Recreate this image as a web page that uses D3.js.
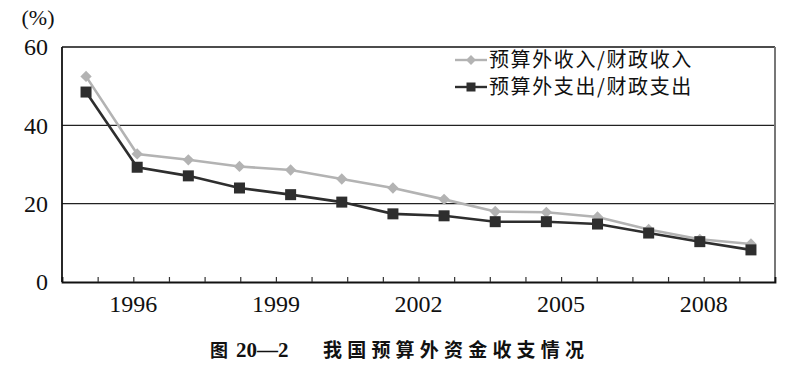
<!DOCTYPE html>
<html><head><meta charset="utf-8">
<script src="https://cdn.jsdelivr.net/npm/d3@7"></script>
<style>
html,body{margin:0;padding:0;background:#fff;}
svg{display:block;}
</style></head>
<body>
<svg id="chart" width="791" height="367"></svg>
<script>
const years = [1996,1997,1998,1999,2000,2001,2002,2003,2004,2005,2006,2007,2008,2009];
const revenueRatio = [52.5,32.7,31.2,29.5,28.6,26.3,24.0,21.1,18.0,17.8,16.6,13.4,10.9,9.7];
const spendingRatio = [48.5,29.3,27.1,24.0,22.3,20.4,17.4,16.9,15.4,15.4,14.8,12.5,10.3,8.2];
const seriesNames = ["预算外收入/财政收入","预算外支出/财政支出"];
const yTicks = [0,20,40,60];
const xTickLabels = ["1996","1999","2002","2005","2008"];
const xTickLabelSlots = [2,6,10,14,18];
const xTickSlots = d3.range(1,20);

const svg = d3.select("#chart");
const L = 62, R = 775, T = 47, B = 282;

const x = d3.scalePoint().domain(years).range([L, R]).padding(0.47);
const xa = d3.scaleLinear().domain([0,20]).range([L, R]);
const y = d3.scaleLinear().domain([0,60]).range([B, T]);

// gridlines
svg.append("g").selectAll("line").data([20,40]).join("line")
  .attr("x1", L).attr("x2", R).attr("y1", d=>y(d)).attr("y2", d=>y(d))
  .attr("stroke", "#222").attr("stroke-width", 1.3);

// frame
svg.append("line").attr("x1", L).attr("x2", R).attr("y1", T).attr("y2", T).attr("stroke", "#111").attr("stroke-width", 1.6);
svg.append("line").attr("x1", R).attr("x2", R).attr("y1", T).attr("y2", B).attr("stroke", "#777").attr("stroke-width", 2);
svg.append("line").attr("x1", L).attr("x2", L).attr("y1", T).attr("y2", B).attr("stroke", "#111").attr("stroke-width", 1.8);

// x axis with inner ticks
const xAxis = d3.axisBottom(xa).tickValues(xTickSlots).tickSize(-5).tickFormat("");
const gx = svg.append("g").attr("transform", `translate(0,${B})`).call(xAxis);
gx.select(".domain").attr("stroke", "#111").attr("stroke-width", 1.8);
gx.selectAll(".tick line").attr("stroke", "#333").attr("stroke-width", 1.2);

svg.append("g").selectAll("text").data(xTickLabels).join("text")
  .attr("x", (d,i)=>xa(xTickLabelSlots[i])).attr("y", 312)
  .attr("text-anchor", "middle")
  .attr("font-family", "'Liberation Serif', 'DejaVu Serif', serif")
  .attr("font-size", 24).attr("fill", "#111")
  .text(d=>d);

// y labels
svg.append("g").selectAll("text").data(yTicks).join("text")
  .attr("x", 48).attr("y", d=>y(d)).attr("dy", "0.35em")
  .attr("text-anchor", "end")
  .attr("font-family", "'Liberation Serif', 'DejaVu Serif', serif")
  .attr("font-size", 24).attr("fill", "#111")
  .text(d=>d);

svg.append("text").attr("x", 38).attr("y", 25).attr("text-anchor", "middle")
  .attr("font-family", "'Liberation Serif', 'DejaVu Serif', serif")
  .attr("font-size", 22).attr("fill", "#111").text("(%)");

// lines
const line = d3.line().x(d=>x(d[0])).y(d=>y(d[1]));
const revData = years.map((yr,i)=>[yr, revenueRatio[i]]);
const spData = years.map((yr,i)=>[yr, spendingRatio[i]]);

const grayC = "#b3b3b3", darkC = "#2e2e2e";
svg.append("path").datum(revData).attr("d", line).attr("fill","none")
  .attr("stroke", grayC).attr("stroke-width", 2.6);
svg.append("g").selectAll("path").data(revData).join("path")
  .attr("d", d3.symbol(d3.symbolSquare, 64)())
  .attr("transform", d=>`translate(${x(d[0])},${y(d[1])}) rotate(45)`)
  .attr("fill", grayC);

svg.append("path").datum(spData).attr("d", line).attr("fill","none")
  .attr("stroke", darkC).attr("stroke-width", 2.6);
svg.append("g").selectAll("rect").data(spData).join("rect")
  .attr("x", d=>x(d[0])-5.5).attr("y", d=>y(d[1])-5.5)
  .attr("width", 11).attr("height", 11).attr("fill", darkC);

// legend
const lg = svg.append("g");
const legY = [60, 87];
const legColors = [grayC, darkC];
seriesNames.forEach((name,i)=>{
  lg.append("line").attr("x1", 455).attr("x2", 487).attr("y1", legY[i]).attr("y2", legY[i])
    .attr("stroke", legColors[i]).attr("stroke-width", 2.4);
  if(i===0){
    lg.append("rect").attr("x", 471-3.5).attr("y", legY[i]-3.5).attr("width",7).attr("height",7)
      .attr("transform", `rotate(45,471,${legY[i]})`).attr("fill", grayC);
  } else {
    lg.append("rect").attr("x", 471-4.5).attr("y", legY[i]-4.5).attr("width",9).attr("height",9).attr("fill", darkC);
  }
  lg.append("text").attr("x", 489).attr("y", legY[i]).attr("dy","0.36em")
    .attr("font-family", "'Noto Sans CJK SC', sans-serif")
    .attr("font-size", 20).attr("letter-spacing", "1.6px").attr("fill", "#111").text(name);
});

// caption
const cap = svg.append("text").attr("y", 357).attr("font-weight", "bold").attr("fill", "#111");
cap.append("tspan").attr("x", 210).attr("font-family", "'Noto Sans CJK SC', sans-serif").attr("font-size", 18).text("图");
cap.append("tspan").attr("x", 236).attr("font-family", "'Liberation Serif', serif").attr("font-size", 21).text("20—2");
cap.append("tspan").attr("x", 323).attr("font-family", "'Noto Sans CJK SC', sans-serif").attr("font-size", 19)
  .attr("letter-spacing", "5.2px").text("我国预算外资金收支情况");
</script>
</body></html>
